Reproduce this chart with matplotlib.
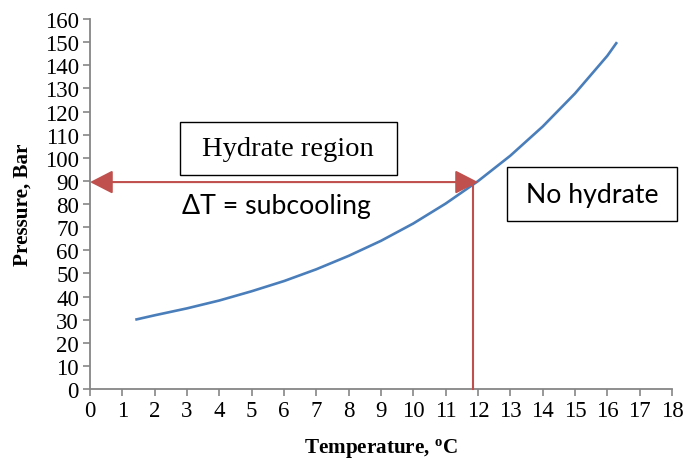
import matplotlib
matplotlib.use('Agg')
import matplotlib.pyplot as plt
from matplotlib.patches import Rectangle, FancyArrowPatch

# hydrate equilibrium curve (temperature in C, pressure in bar)
temp = [1.4, 2, 3, 4, 5, 6, 7, 8, 9, 10, 11, 12, 13, 14, 15, 16, 16.3]
pres = [30, 31.9, 34.9, 38.3, 42.3, 46.7, 51.8, 57.6, 64.1, 71.6, 80.2, 89.9, 100.9, 113.5, 127.8, 144.1, 150]

# operating point used for the subcooling arrow
op_temp = 11.9
op_pres = 89.5

xticks = list(range(0, 19))
yticks = list(range(0, 161, 10))

plt.rcParams['mathtext.fontset'] = 'custom'
plt.rcParams['mathtext.rm'] = 'Liberation Serif'
plt.rcParams['mathtext.bf'] = 'Liberation Serif:bold'

serif = 'Liberation Serif'
sans = ['Lato', 'DejaVu Sans']
grey = '#868686'
blue = '#4A7EBB'
red = '#C0504D'

fig = plt.figure(figsize=(6.85, 4.6), dpi=100)
ax = fig.add_axes([0.1314, 0.152, 0.981 - 0.1314, 0.9565 - 0.152])

ax.plot(temp, pres, color=blue, lw=1.9, solid_capstyle='butt', solid_joinstyle='round', zorder=3)

# subcooling arrow and vertical drop to the axis
arr = FancyArrowPatch((op_temp + 0.1, op_pres), (0.0, op_pres),
                      arrowstyle='<|-|>,head_length=0.7,head_width=0.36',
                      mutation_scale=20, color=red, lw=1.5, zorder=4,
                      shrinkA=0, shrinkB=0, clip_on=False)
ax.add_patch(arr)
ax.plot([op_temp - 0.05, op_temp - 0.05], [op_pres, 0], color=red, lw=1.5, zorder=4, clip_on=False)

# label boxes
ax.add_patch(Rectangle((2.77, 92.5), 9.5 - 2.77, 115.5 - 92.5, fill=True, facecolor='white',
                       edgecolor='black', lw=1.0, zorder=5))
ax.text((2.77 + 9.5) / 2, (92.5 + 115.5) / 2, 'Hydrate region', family=serif, fontsize=20.5,
        ha='center', va='center', zorder=6)

ax.add_patch(Rectangle((12.9, 72.6), 18.16 - 12.9, 96 - 72.6, fill=True, facecolor='white',
                       edgecolor='black', lw=1.0, zorder=5, clip_on=False))
ax.text((12.9 + 18.16) / 2, 84.3, 'No hydrate', family=sans, fontsize=19.2,
        ha='center', va='center', zorder=6, clip_on=False)

ax.text(5.76, 79.5, 'ΔT = subcooling', family=sans, fontsize=19.2, ha='center', va='center', zorder=6)

ax.set_xlim(0, 18)
ax.set_ylim(0, 160)
ax.set_xticks(xticks)
ax.set_yticks(yticks)
ax.tick_params(direction='out', length=5, width=1.2, color=grey, pad=3,
               labelsize=16.5, labelfontfamily=serif)

for s in ['top', 'right']:
    ax.spines[s].set_visible(False)
for s in ['left', 'bottom']:
    ax.spines[s].set_color(grey)
    ax.spines[s].set_linewidth(1.3)

ax.set_xlabel(r'Temperature, $\mathbf{^o}$C', family=serif, fontweight='bold', fontsize=15.2, labelpad=11)
ax.set_ylabel('Pressure, Bar', family=serif, fontweight='bold', fontsize=15.2, labelpad=9)

fig.savefig('out.png', dpi=100, facecolor='white')
